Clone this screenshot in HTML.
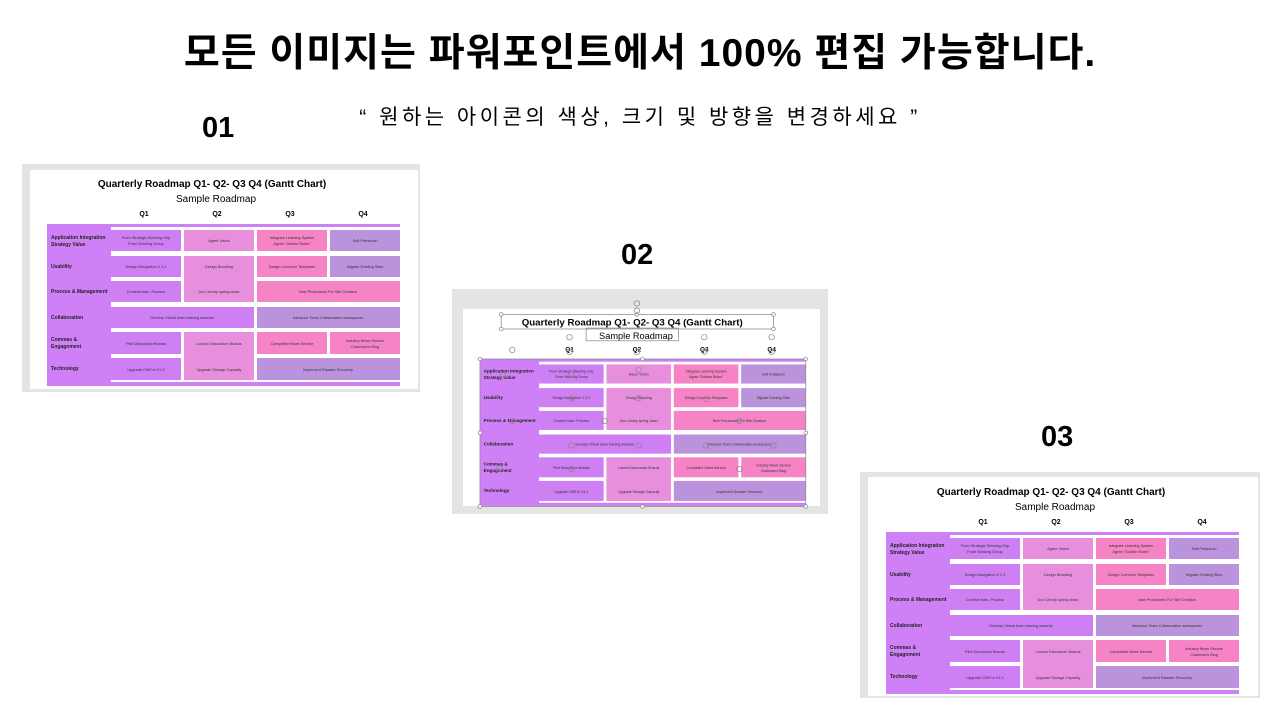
<!DOCTYPE html>
<html><head><meta charset="utf-8">
<style>
html,body{margin:0;padding:0;background:#fff;}
body{width:1280px;height:720px;position:relative;overflow:hidden;font-family:"Liberation Sans","Noto Sans CJK KR",sans-serif;}
.t{position:absolute;left:0;width:1280px;text-align:center;color:#000;}
</style></head><body>
<div class="t" style="top:22px;font-size:39px;font-weight:bold;letter-spacing:1px;">모든 이미지는 파워포인트에서 100% 편집 가능합니다.</div>
<div class="t" style="top:101px;font-size:21px;letter-spacing:3.5px;">“ 원하는 아이콘의 색상, 크기 및 방향을 변경하세요 ”</div>
<div style="position:absolute;left:202px;top:112px;font-size:29px;font-weight:bold;">01</div>
<div style="position:absolute;left:621px;top:239px;font-size:29px;font-weight:bold;">02</div>
<div style="position:absolute;left:1041px;top:421px;font-size:29px;font-weight:bold;">03</div>

<svg width="1280" height="720" style="position:absolute;left:0;top:0" xmlns="http://www.w3.org/2000/svg" font-family="Liberation Sans, sans-serif">
<rect x="22" y="164" width="398" height="228" fill="#e4e4e4"/>
<rect x="30" y="170" width="388" height="219" fill="#fff"/>
<rect x="452" y="289" width="376" height="225" fill="#e4e4e4"/>
<rect x="463" y="309" width="357" height="197" fill="#fff"/>
<rect x="860" y="472" width="400" height="226" fill="#e4e4e4"/>
<rect x="868" y="477" width="390" height="219" fill="#fff"/>

<g transform="translate(22,164)">
<text x="190" y="23" font-size="10" font-weight="bold" text-anchor="middle">Quarterly Roadmap Q1- Q2- Q3 Q4 (Gantt Chart)</text>
<text x="194" y="38" font-size="10" text-anchor="middle">Sample Roadmap</text>
<g font-size="7" font-weight="bold" text-anchor="middle"><text x="122" y="52">Q1</text><text x="195" y="52">Q2</text><text x="268" y="52">Q3</text><text x="341" y="52">Q4</text></g>
<rect x="25" y="60" width="353" height="162" fill="#d080f6"/>
<rect x="89" y="63" width="289" height="155" fill="#fff"/>
<g fill="#cd7ff3"><rect x="89" y="66" width="70" height="21"/><rect x="89" y="92" width="70" height="21"/><rect x="89" y="117" width="70" height="21"/><rect x="89" y="143" width="143" height="21"/><rect x="89" y="168" width="70" height="22"/><rect x="89" y="194" width="70" height="22"/></g>
<g fill="#e78fdc"><rect x="162" y="66" width="70" height="21"/><rect x="162" y="92" width="70" height="46"/><rect x="162" y="168" width="70" height="48"/></g>
<g fill="#f683c5"><rect x="235" y="66" width="70" height="21"/><rect x="235" y="92" width="70" height="21"/><rect x="235" y="117" width="143" height="21"/><rect x="235" y="168" width="70" height="22"/><rect x="308" y="168" width="70" height="22"/></g>
<g fill="#bb92dc"><rect x="308" y="66" width="70" height="21"/><rect x="308" y="92" width="70" height="21"/><rect x="235" y="143" width="143" height="21"/><rect x="235" y="194" width="143" height="22"/></g>
<g font-size="5" font-weight="bold" fill="#222"><text x="29" y="75">Application Integration</text><text x="29" y="82">Strategy Value</text><text x="29" y="104">Usability</text><text x="29" y="129">Process &amp; Management</text><text x="29" y="155">Collaboration</text><text x="29" y="177">Commas &amp;</text><text x="29" y="184">Engagnment</text><text x="29" y="206">Technology</text></g>
<g font-size="3.8" fill="#333" text-anchor="middle">
<text x="124" y="75">From Strategic Steering Grip</text><text x="124" y="81">From Working Group</text>
<text x="197" y="78">Agree Vision</text>
<text x="270" y="75">Integrate Learning System</text><text x="270" y="81">Agree "Golden Rules"</text>
<text x="343" y="78">Soft Prelaunch</text>
<text x="124" y="104">Design Navigation V 2.1</text>
<text x="197" y="104">Design Branding</text><text x="197" y="129">Doc Library spring clean</text>
<text x="270" y="104">Design Common Templates</text>
<text x="343" y="104">Migrate Existing Sites</text>
<text x="124" y="129">Content main. Process</text>
<text x="306" y="129">New Procedures For Site Creation</text>
<text x="160" y="155">Develop Virtual team training material</text>
<text x="306" y="155">Introduce Team Collaboration workspaces</text>
<text x="124" y="181">Pilot Discussion Boards</text>
<text x="197" y="181">Launch Discussion Boards</text><text x="197" y="207">Upgrade Storage Capacity</text>
<text x="270" y="181">Competitor News Service</text>
<text x="343" y="178">Industry News Service</text><text x="343" y="184">Chairman's Blog</text>
<text x="124" y="207">Upgrade CMS to V1.2</text>
<text x="306" y="207">Implement Disaster Recovery</text>
</g>
</g>

<g transform="translate(456.9,304.4) scale(0.923,0.91)">
<text x="190" y="23" font-size="10.5" font-weight="bold" text-anchor="middle">Quarterly Roadmap Q1- Q2- Q3 Q4 (Gantt Chart)</text>
<text x="194" y="38" font-size="10" text-anchor="middle">Sample Roadmap</text>
<g font-size="7" font-weight="bold" text-anchor="middle"><text x="122" y="52">Q1</text><text x="195" y="52">Q2</text><text x="268" y="52">Q3</text><text x="341" y="52">Q4</text></g>
<rect x="25" y="60" width="353" height="162" fill="#d080f6"/>
<rect x="89" y="63" width="289" height="155" fill="#fff"/>
<g fill="#cd7ff3"><rect x="89" y="66" width="70" height="21"/><rect x="89" y="92" width="70" height="21"/><rect x="89" y="117" width="70" height="21"/><rect x="89" y="143" width="143" height="21"/><rect x="89" y="168" width="70" height="22"/><rect x="89" y="194" width="70" height="22"/></g>
<g fill="#e78fdc"><rect x="162" y="66" width="70" height="21"/><rect x="162" y="92" width="70" height="46"/><rect x="162" y="168" width="70" height="48"/></g>
<g fill="#f683c5"><rect x="235" y="66" width="70" height="21"/><rect x="235" y="92" width="70" height="21"/><rect x="235" y="117" width="143" height="21"/><rect x="235" y="168" width="70" height="22"/><rect x="308" y="168" width="70" height="22"/></g>
<g fill="#bb92dc"><rect x="308" y="66" width="70" height="21"/><rect x="308" y="92" width="70" height="21"/><rect x="235" y="143" width="143" height="21"/><rect x="235" y="194" width="143" height="22"/></g>
<g font-size="5" font-weight="bold" fill="#222"><text x="29" y="75">Application Integration</text><text x="29" y="82">Strategy Value</text><text x="29" y="104">Usability</text><text x="29" y="129">Process &amp; Management</text><text x="29" y="155">Collaboration</text><text x="29" y="177">Commas &amp;</text><text x="29" y="184">Engagnment</text><text x="29" y="206">Technology</text></g>
<g font-size="3.8" fill="#333" text-anchor="middle">
<text x="124" y="75">From Strategic Steering Grip</text><text x="124" y="81">From Working Group</text>
<text x="197" y="78">Agree Vision</text>
<text x="270" y="75">Integrate Learning System</text><text x="270" y="81">Agree "Golden Rules"</text>
<text x="343" y="78">Soft Prelaunch</text>
<text x="124" y="104">Design Navigation V 2.1</text>
<text x="197" y="104">Design Branding</text><text x="197" y="129">Doc Library spring clean</text>
<text x="270" y="104">Design Common Templates</text>
<text x="343" y="104">Migrate Existing Sites</text>
<text x="124" y="129">Content main. Process</text>
<text x="306" y="129">New Procedures For Site Creation</text>
<text x="160" y="155">Develop Virtual team training material</text>
<text x="306" y="155">Introduce Team Collaboration workspaces</text>
<text x="124" y="181">Pilot Discussion Boards</text>
<text x="197" y="181">Launch Discussion Boards</text><text x="197" y="207">Upgrade Storage Capacity</text>
<text x="270" y="181">Competitor News Service</text>
<text x="343" y="178">Industry News Service</text><text x="343" y="184">Chairman's Blog</text>
<text x="124" y="207">Upgrade CMS to V1.2</text>
<text x="306" y="207">Implement Disaster Recovery</text>
</g>
<g fill="#fff" stroke="#888" stroke-width="0.8">
<rect x="25" y="60" width="353" height="162" fill="none"/>
<rect x="48" y="11" width="295" height="16" fill="none"/>
<rect x="140" y="26" width="100" height="14" fill="none"/>
<circle cx="25" cy="60" r="2"/><circle cx="201" cy="60" r="2"/><circle cx="378" cy="60" r="2"/>
<circle cx="25" cy="141" r="2"/><circle cx="378" cy="141" r="2"/>
<circle cx="25" cy="222" r="2"/><circle cx="201" cy="222" r="2"/><circle cx="378" cy="222" r="2"/>
<circle cx="48" cy="11" r="2"/><circle cx="343" cy="11" r="2"/><circle cx="48" cy="27" r="2"/><circle cx="343" cy="27" r="2"/><circle cx="195" cy="11" r="2"/>
<circle cx="195" cy="-1" r="3" fill="none"/><circle cx="195" cy="7" r="3" fill="none"/>
<circle cx="122" cy="52" r="3" fill="none"/><circle cx="195" cy="52" r="3" fill="none"/><circle cx="268" cy="52" r="3" fill="none"/><circle cx="341" cy="52" r="3" fill="none"/>
<circle cx="122" cy="36" r="3" fill="none"/><circle cx="268" cy="36" r="3" fill="none"/><circle cx="341" cy="36" r="3" fill="none"/>
<circle cx="60" cy="50" r="3" fill="none"/>
<circle cx="124" cy="77" r="3" fill="none"/><circle cx="197" cy="72" r="3" fill="none"/><circle cx="124" cy="103" r="3" fill="none"/><circle cx="197" cy="103" r="3" fill="none"/>
<circle cx="60" cy="128" r="3" fill="none"/><circle cx="160" cy="128" r="3" fill="none"/><circle cx="306" cy="128" r="3" fill="none"/><circle cx="270" cy="104" r="3" fill="none"/>
<circle cx="124" cy="155" r="3" fill="none"/><circle cx="197" cy="155" r="3" fill="none"/><circle cx="270" cy="155" r="3" fill="none"/><circle cx="343" cy="155" r="3" fill="none"/>
<circle cx="124" cy="181" r="3" fill="none"/><circle cx="306" cy="181" r="3" fill="none"/><circle cx="46" cy="180" r="3" fill="none"/><circle cx="50" cy="78" r="3" fill="none"/>
</g>
</g>

<g transform="translate(861,472)">
<text x="190" y="23" font-size="10" font-weight="bold" text-anchor="middle">Quarterly Roadmap Q1- Q2- Q3 Q4 (Gantt Chart)</text>
<text x="194" y="38" font-size="10" text-anchor="middle">Sample Roadmap</text>
<g font-size="7" font-weight="bold" text-anchor="middle"><text x="122" y="52">Q1</text><text x="195" y="52">Q2</text><text x="268" y="52">Q3</text><text x="341" y="52">Q4</text></g>
<rect x="25" y="60" width="353" height="162" fill="#d080f6"/>
<rect x="89" y="63" width="289" height="155" fill="#fff"/>
<g fill="#cd7ff3"><rect x="89" y="66" width="70" height="21"/><rect x="89" y="92" width="70" height="21"/><rect x="89" y="117" width="70" height="21"/><rect x="89" y="143" width="143" height="21"/><rect x="89" y="168" width="70" height="22"/><rect x="89" y="194" width="70" height="22"/></g>
<g fill="#e78fdc"><rect x="162" y="66" width="70" height="21"/><rect x="162" y="92" width="70" height="46"/><rect x="162" y="168" width="70" height="48"/></g>
<g fill="#f683c5"><rect x="235" y="66" width="70" height="21"/><rect x="235" y="92" width="70" height="21"/><rect x="235" y="117" width="143" height="21"/><rect x="235" y="168" width="70" height="22"/><rect x="308" y="168" width="70" height="22"/></g>
<g fill="#bb92dc"><rect x="308" y="66" width="70" height="21"/><rect x="308" y="92" width="70" height="21"/><rect x="235" y="143" width="143" height="21"/><rect x="235" y="194" width="143" height="22"/></g>
<g font-size="5" font-weight="bold" fill="#222"><text x="29" y="75">Application Integration</text><text x="29" y="82">Strategy Value</text><text x="29" y="104">Usability</text><text x="29" y="129">Process &amp; Management</text><text x="29" y="155">Collaboration</text><text x="29" y="177">Commas &amp;</text><text x="29" y="184">Engagnment</text><text x="29" y="206">Technology</text></g>
<g font-size="3.8" fill="#333" text-anchor="middle">
<text x="124" y="75">From Strategic Steering Grip</text><text x="124" y="81">From Working Group</text>
<text x="197" y="78">Agree Vision</text>
<text x="270" y="75">Integrate Learning System</text><text x="270" y="81">Agree "Golden Rules"</text>
<text x="343" y="78">Soft Prelaunch</text>
<text x="124" y="104">Design Navigation V 2.1</text>
<text x="197" y="104">Design Branding</text><text x="197" y="129">Doc Library spring clean</text>
<text x="270" y="104">Design Common Templates</text>
<text x="343" y="104">Migrate Existing Sites</text>
<text x="124" y="129">Content main. Process</text>
<text x="306" y="129">New Procedures For Site Creation</text>
<text x="160" y="155">Develop Virtual team training material</text>
<text x="306" y="155">Introduce Team Collaboration workspaces</text>
<text x="124" y="181">Pilot Discussion Boards</text>
<text x="197" y="181">Launch Discussion Boards</text><text x="197" y="207">Upgrade Storage Capacity</text>
<text x="270" y="181">Competitor News Service</text>
<text x="343" y="178">Industry News Service</text><text x="343" y="184">Chairman's Blog</text>
<text x="124" y="207">Upgrade CMS to V1.2</text>
<text x="306" y="207">Implement Disaster Recovery</text>
</g>
</g>
</svg>
</body></html>
